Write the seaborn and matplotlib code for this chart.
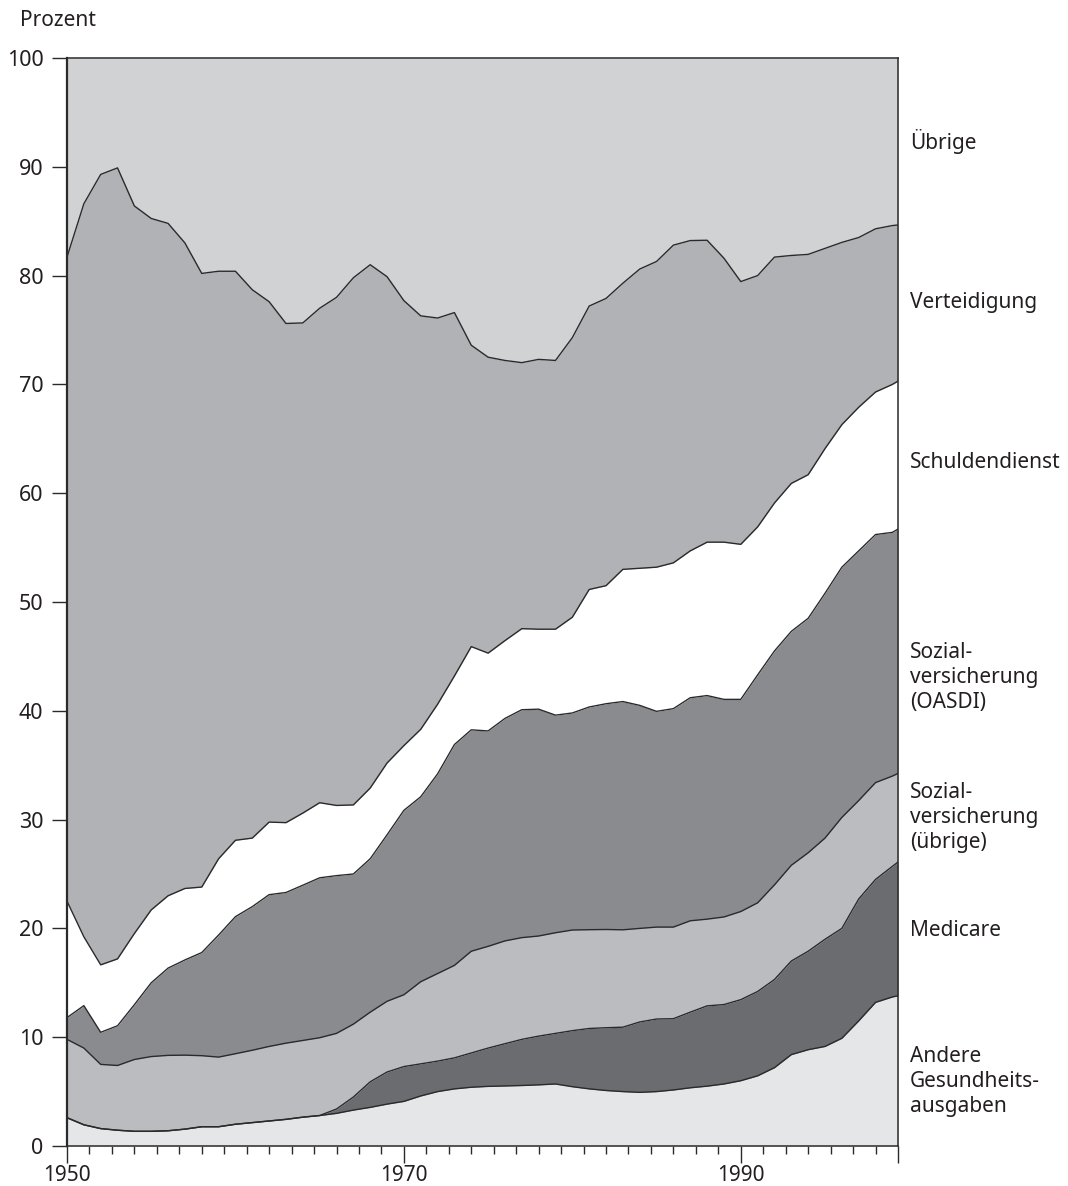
import numpy as np
import matplotlib
matplotlib.use("Agg")
import matplotlib.pyplot as plt
import matplotlib.transforms as mtransforms
import seaborn as sns

# Jahre (letzter Punkt = rechter Achsenrand)
jahre = list(range(1950, 2000)) + [1999 + 1/3]

# kumulierte Anteile in Prozent (Oberkante jeder Schicht), von unten nach oben
bis_andere_gesundheit = [2.6, 1.95, 1.6, 1.45, 1.35, 1.35, 1.4, 1.55, 1.77, 1.77,
                         2.0, 2.15, 2.3, 2.45, 2.65, 2.8, 3.0, 3.3, 3.55, 3.85,
                         4.1, 4.6, 5.0, 5.25, 5.4, 5.48, 5.52, 5.56, 5.62, 5.7,
                         5.45, 5.25, 5.1, 5.0, 4.93, 5.0, 5.15, 5.35, 5.5, 5.7,
                         6.0, 6.45, 7.2, 8.4, 8.85, 9.15, 9.9, 11.5, 13.2, 13.7, 13.8]
bis_medicare = [2.6, 1.95, 1.6, 1.45, 1.35, 1.35, 1.4, 1.55, 1.77, 1.77,
                2.0, 2.15, 2.3, 2.45, 2.65, 2.8, 3.4, 4.5, 5.9, 6.8,
                7.3, 7.55, 7.8, 8.1, 8.55, 9.0, 9.4, 9.8, 10.1, 10.35,
                10.6, 10.8, 10.87, 10.92, 11.4, 11.67, 11.7, 12.3, 12.88, 13.0,
                13.45, 14.2, 15.3, 17.0, 17.9, 19.0, 20.0, 22.7, 24.5, 25.7, 26.1]
bis_sozial_uebrige = [9.8, 9.0, 7.5, 7.4, 7.95, 8.22, 8.33, 8.35, 8.3, 8.17,
                      8.48, 8.8, 9.15, 9.45, 9.7, 9.95, 10.35, 11.2, 12.3, 13.3,
                      13.9, 15.1, 15.85, 16.6, 17.9, 18.35, 18.85, 19.15, 19.3, 19.6,
                      19.85, 19.88, 19.9, 19.87, 20.0, 20.12, 20.12, 20.7, 20.85, 21.05,
                      21.55, 22.35, 24.0, 25.8, 26.95, 28.3, 30.2, 31.75, 33.4, 34.0, 34.24]
bis_oasdi = [11.8, 12.9, 10.45, 11.05, 12.99, 15.0, 16.35, 17.1, 17.78, 19.39,
             21.08, 22.0, 23.1, 23.3, 23.97, 24.65, 24.85, 25.0, 26.4, 28.6,
             30.85, 32.1, 34.2, 36.9, 38.25, 38.15, 39.3, 40.1, 40.15, 39.6,
             39.8, 40.35, 40.65, 40.85, 40.5, 39.95, 40.2, 41.2, 41.4, 41.05,
             41.05, 43.3, 45.5, 47.3, 48.5, 50.8, 53.2, 54.7, 56.2, 56.4, 56.7]
bis_schulden = [22.5, 19.23, 16.65, 17.2, 19.53, 21.7, 23.0, 23.67, 23.8, 26.4,
                28.1, 28.3, 29.77, 29.72, 30.6, 31.55, 31.3, 31.35, 32.9, 35.2,
                36.8, 38.3, 40.6, 43.2, 45.9, 45.3, 46.45, 47.55, 47.5, 47.5,
                48.6, 51.15, 51.5, 53.0, 53.1, 53.2, 53.6, 54.7, 55.5, 55.5,
                55.3, 56.9, 59.1, 60.9, 61.7, 64.1, 66.3, 67.9, 69.3, 70.0, 70.3]
bis_verteidigung = [81.7, 86.6, 89.3, 89.9, 86.4, 85.25, 84.8, 83.0, 80.2, 80.4,
                    80.4, 78.7, 77.6, 75.6, 75.65, 77.0, 78.0, 79.8, 81.0, 79.9,
                    77.7, 76.3, 76.1, 76.6, 73.6, 72.5, 72.2, 72.0, 72.3, 72.2,
                    74.3, 77.2, 77.9, 79.3, 80.6, 81.3, 82.8, 83.22, 83.25, 81.6,
                    79.45, 80.0, 81.7, 81.85, 81.95, 82.5, 83.05, 83.5, 84.3, 84.6, 84.65]
bis_gesamt = [100.0] * len(jahre)

kategorien = ["Andere\nGesundheits-\nausgaben", "Medicare",
              "Sozial-\nversicherung\n(übrige)", "Sozial-\nversicherung\n(OASDI)",
              "Schuldendienst", "Verteidigung", "Übrige"]
farben = ["#e5e6e8", "#6b6c70", "#bbbcc0", "#8a8b8f", "#ffffff", "#b1b2b6", "#d1d2d4"]
label_y = [5.9, 19.85, 30.2, 43.1, 62.85, 77.55, 92.3]

grenzen = [[0.0] * len(jahre), bis_andere_gesundheit, bis_medicare, bis_sozial_uebrige,
           bis_oasdi, bis_schulden, bis_verteidigung, bis_gesamt]

sns.set_style("ticks")
plt.rcParams["font.family"] = ["Noto Sans", "DejaVu Sans"]
textfarbe = "#231f20"

fig = plt.figure(figsize=(10.68, 11.86), dpi=100)
ax = fig.add_axes([67/1068, 1 - 1146/1186, (898 - 67)/1068, (1146 - 58)/1186])

for i in range(len(kategorien)):
    ax.fill_between(jahre, grenzen[i], grenzen[i + 1], color=farben[i], linewidth=0)

for g in grenzen[1:-1]:
    sns.lineplot(x=jahre, y=g, ax=ax, color="#2a2a2a", linewidth=1.0)

ax.set_xlim(1950, 1999 + 1/3)
ax.set_ylim(0, 100)

ax.set_yticks(range(0, 101, 10))
ax.set_xticks([1950, 1970, 1990, 1999 + 1/3])
ax.set_xticklabels(["1950", "1970", "1990", ""])
ax.set_xticks([1950 + k * 4/3 for k in range(38)], minor=True)
ax.tick_params(axis="y", length=11, width=1, labelsize=15.5, pad=6,
               color="#2a2a2a", labelcolor=textfarbe)
ax.tick_params(axis="x", which="major", length=12, width=1, labelsize=15, pad=1.5,
               color="#2a2a2a", labelcolor=textfarbe)
ax.tick_params(axis="x", which="minor", length=6, width=1, color="#2a2a2a")
for s in ax.spines.values():
    s.set_color("#2a2a2a")
    s.set_linewidth(1.1)
ax.spines["left"].set_linewidth(1.6)
ax.set_xlabel("")
ax.set_ylabel("")

trans = mtransforms.blended_transform_factory(ax.transAxes, ax.transData)
for name, yv in zip(kategorien, label_y):
    ax.text(1.0145, yv, name, transform=trans, ha="left", va="center",
            fontsize=15, color=textfarbe, linespacing=1.25, clip_on=False)

fig.text(20/1068, 1 - 21/1186, "Prozent", ha="left", va="center",
         fontsize=15, color=textfarbe)

fig.savefig("out.png", dpi=100)
plt.close(fig)
